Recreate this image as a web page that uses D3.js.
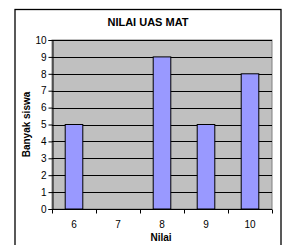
<!DOCTYPE html>
<html lang="id">
<head>
  <meta charset="utf-8">
  <title>Nilai UAS MAT</title>
  <script src="https://d3js.org/d3.v7.min.js"></script>
  <style>
    body { margin: 0; background: #fff; }
    svg { display: block; font-family: "Liberation Sans", Arial, sans-serif; }
  </style>
</head>
<body>
  <svg width="290" height="245"></svg>
  <script>
    var categories = ["6", "7", "8", "9", "10"];
    var counts = [5, 0, 9, 5, 8];
    var yTicks = [0, 1, 2, 3, 4, 5, 6, 7, 8, 9, 10];

    var svg = d3.select("svg"),
      plot = { left: 52, right: 272, top: 40, bottom: 209 };

    // chart border
    svg.append("rect")
      .attr("x", 15).attr("y", 9.5)
      .attr("width", 266).attr("height", 250)
      .attr("fill", "#fff")
      .attr("stroke", "#000")
      .attr("stroke-width", 1.3);

    var x = d3.scaleBand().domain(categories).range([plot.left, plot.right]).paddingInner(0).paddingOuter(0);
    var y = d3.scaleLinear().domain([0, 10]).range([plot.bottom, plot.top]);

    // plot background
    svg.append("rect")
      .attr("x", plot.left).attr("y", plot.top)
      .attr("width", plot.right - plot.left).attr("height", plot.bottom - plot.top)
      .attr("fill", "#c0c0c0")
      .attr("stroke", "#808080");

    // grid
    svg.append("g").selectAll("line")
      .data(yTicks.slice(1))
      .join("line")
      .attr("x1", plot.left).attr("x2", plot.right)
      .attr("y1", d => Math.round(y(d)) + 0.5).attr("y2", d => Math.round(y(d)) + 0.5)
      .attr("stroke", "#000");

    // bars (gap width 150%)
    var bw = x.bandwidth() / 2.5;
    svg.append("g").selectAll("rect")
      .data(counts)
      .join("rect")
      .attr("x", (d, i) => x(categories[i]) + (x.bandwidth() - bw) / 2)
      .attr("y", d => y(d))
      .attr("width", bw)
      .attr("height", d => y(0) - y(d))
      .attr("fill", "#9999ff")
      .attr("stroke", "#000")
      .attr("stroke-width", d => d > 0 ? 1 : 0);

    // y axis
    var yAxis = svg.append("g")
      .attr("transform", "translate(" + (plot.left + 0.5) + ",0)")
      .call(d3.axisLeft(y).tickValues(yTicks).tickSize(4).tickPadding(2));
    yAxis.select(".domain").attr("stroke", "#000");
    yAxis.selectAll(".tick line").attr("stroke", "#000");
    yAxis.selectAll("text").attr("font-size", 10).attr("fill", "#000").attr("font-family", "Liberation Sans, Arial, sans-serif");

    // x axis
    var xAxis = svg.append("g")
      .attr("transform", "translate(0," + (plot.bottom + 0.5) + ")");
    xAxis.append("line")
      .attr("x1", plot.left).attr("x2", plot.right)
      .attr("stroke", "#000");
    xAxis.selectAll(".tk")
      .data(categories.concat(["end"]))
      .join("line")
      .attr("x1", (d, i) => Math.round(plot.left + i * x.bandwidth()) + 0.5)
      .attr("x2", (d, i) => Math.round(plot.left + i * x.bandwidth()) + 0.5)
      .attr("y1", 0).attr("y2", 4)
      .attr("stroke", "#000");
    xAxis.selectAll("text")
      .data(categories)
      .join("text")
      .attr("x", d => x(d) + x.bandwidth() / 2)
      .attr("y", 18)
      .attr("text-anchor", "middle")
      .attr("font-size", 10)
      .text(d => d);

    // titles
    svg.append("text")
      .attr("x", 148).attr("y", 26)
      .attr("text-anchor", "middle")
      .attr("font-size", 11).attr("font-weight", "bold")
      .text("NILAI UAS MAT");

    svg.append("text")
      .attr("x", plot.left + (plot.right - plot.left) / 2 - 1).attr("y", 241)
      .attr("text-anchor", "middle")
      .attr("font-size", 10).attr("font-weight", "bold")
      .text("Nilai");

    svg.append("text")
      .attr("transform", "translate(30," + ((plot.top + plot.bottom) / 2) + ") rotate(-90)")
      .attr("text-anchor", "middle")
      .attr("font-size", 10).attr("font-weight", "bold")
      .text("Banyak siswa");
  </script>
</body>
</html>
